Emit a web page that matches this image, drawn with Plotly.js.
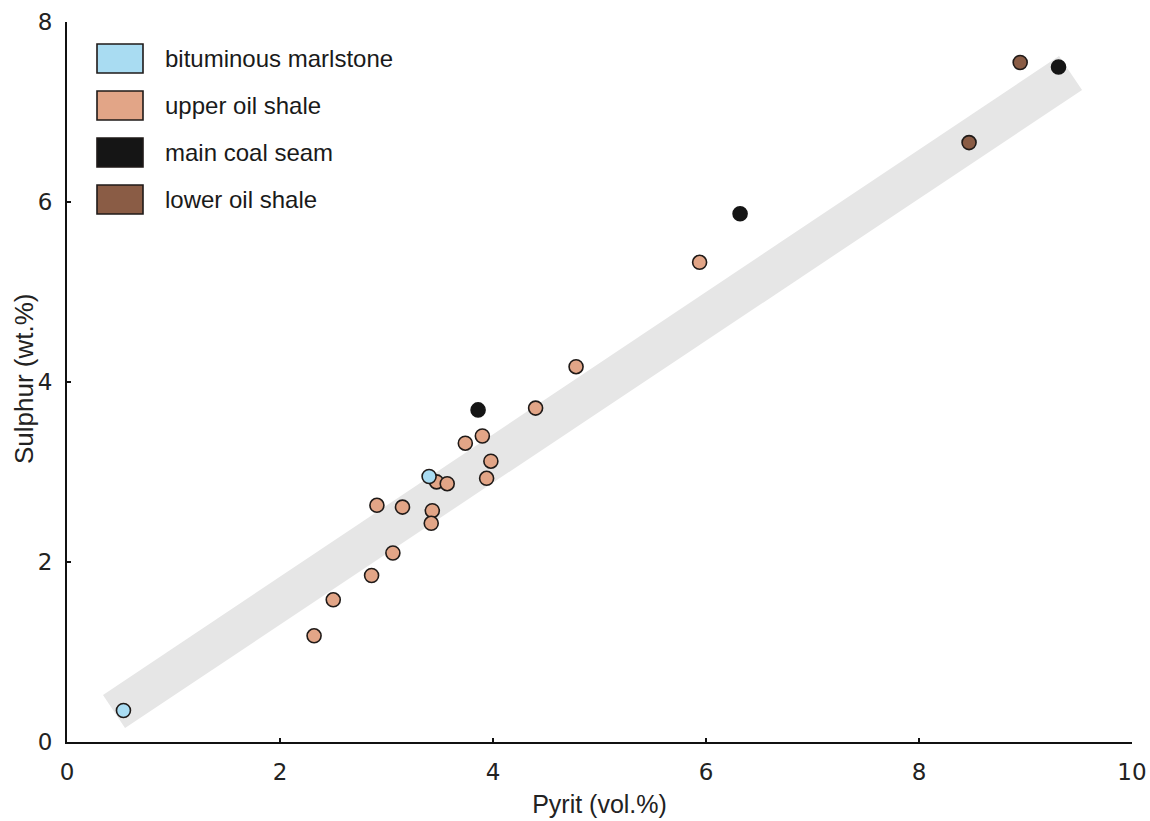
<!DOCTYPE html>
<html>
<head>
<meta charset="utf-8">
<script src="https://cdn.plot.ly/plotly-3.0.1.min.js"></script>
<style>html,body{margin:0;padding:0;background:#fff;}#chart{width:1150px;height:821px;}</style>
</head>
<body>
<div id="chart"></div>
<script>
// ---- data ----
const groupNames = ["bituminous marlstone", "upper oil shale", "main coal seam", "lower oil shale"];
const groupColors = ["#a9dcf2", "#e2a587", "#151515", "#8a5c45"];

const marlX = [0.53, 3.40];
const marlY = [0.35, 2.95];

const upperX = [2.32, 2.50, 2.86, 3.06, 2.91, 3.15, 3.43, 3.42, 3.47, 3.57, 3.74, 3.90, 3.98, 3.94, 4.40, 4.78, 5.94];
const upperY = [1.18, 1.58, 1.85, 2.10, 2.63, 2.61, 2.57, 2.43, 2.89, 2.87, 3.32, 3.40, 3.12, 2.93, 3.71, 4.17, 5.33];

const coalX = [3.86, 6.32, 9.31];
const coalY = [3.69, 5.87, 7.50];

const lowerX = [8.95, 8.47];
const lowerY = [7.55, 6.66];

// trend band corners
const bandX = [0.338, 0.545, 9.531, 9.315, 0.338];
const bandY = [0.522, 0.156, 7.244, 7.622, 0.522];

const xTickVals = [0, 2, 4, 6, 8, 10];
const yTickVals = [0, 2, 4, 6, 8];

const xTitle = "Pyrit (vol.%)";
const yTitle = "Sulphur (wt.%)";

// ---- traces ----
const outline = "#1f1a18";
function pts(x, y, i) {
  return {
    type: "scatter", mode: "markers", x: x, y: y, name: groupNames[i],
    showlegend: false, hoverinfo: "x+y",
    marker: {size: 14, color: groupColors[i], line: {width: 1.6, color: i === 2 ? groupColors[2] : outline}}
  };
}
const traces = [
  {type: "scatter", mode: "lines", x: bandX, y: bandY, fill: "toself",
   fillcolor: "#e6e6e6", line: {width: 0, color: "#e6e6e6"}, hoverinfo: "skip", showlegend: false},
  pts(upperX, upperY, 1),
  pts(marlX, marlY, 0),
  pts(coalX, coalY, 2),
  pts(lowerX, lowerY, 3)
];

// ---- manual legend (large swatches) ----
const L = 67, R = 18, T = 22, B = 79, W = 1150, H = 821;
const pw = W - L - R, ph = H - T - B;
const px = v => (v - L) / pw;
const py = v => (H - B - v) / ph;
const shapes = [], annotations = [];
groupNames.forEach((n, i) => {
  const top = 44 + i * 47, bot = top + 29;
  shapes.push({type: "rect", xref: "paper", yref: "paper",
    x0: px(97), x1: px(143), y0: py(bot), y1: py(top),
    fillcolor: groupColors[i], line: {color: outline, width: 1.6}});
  annotations.push({xref: "paper", yref: "paper", x: px(163), y: py((top + bot) / 2),
    xanchor: "left", yanchor: "middle", showarrow: false, text: n,
    font: {family: "Liberation Sans, Arial, sans-serif", size: 24, color: "#1a1a1a"}});
});
// y-axis title placed as rotated annotation
annotations.push({xref: "paper", yref: "paper", x: px(24), y: py(379),
  xanchor: "center", yanchor: "middle", showarrow: false, textangle: -90, text: yTitle,
  font: {family: "Liberation Sans, Arial, sans-serif", size: 26, color: "#222"}});

const axisCommon = {
  showgrid: false, zeroline: false, showline: true, linecolor: "#111", linewidth: 2,
  ticks: "inside", ticklen: 4, tickwidth: 1.5, tickcolor: "#111",
  tickfont: {family: "DejaVu Sans, sans-serif", size: 23, color: "#222"}, mirror: false
};

const layout = {
  width: W, height: H,
  margin: {l: L, r: R, t: T, b: B, pad: 0},
  paper_bgcolor: "#ffffff", plot_bgcolor: "#ffffff",
  showlegend: false,
  xaxis: Object.assign({}, axisCommon, {
    range: [0, 10], tickvals: xTickVals, ticklabelstandoff: 8,
    title: {text: xTitle, standoff: 12,
      font: {family: "Liberation Sans, Arial, sans-serif", size: 25, color: "#222"}}
  }),
  yaxis: Object.assign({}, axisCommon, {
    range: [0, 8], tickvals: yTickVals, ticklabelstandoff: 8
  }),
  shapes: shapes, annotations: annotations
};

Plotly.newPlot("chart", traces, layout, {displayModeBar: false, staticPlot: true});
</script>
</body>
</html>
